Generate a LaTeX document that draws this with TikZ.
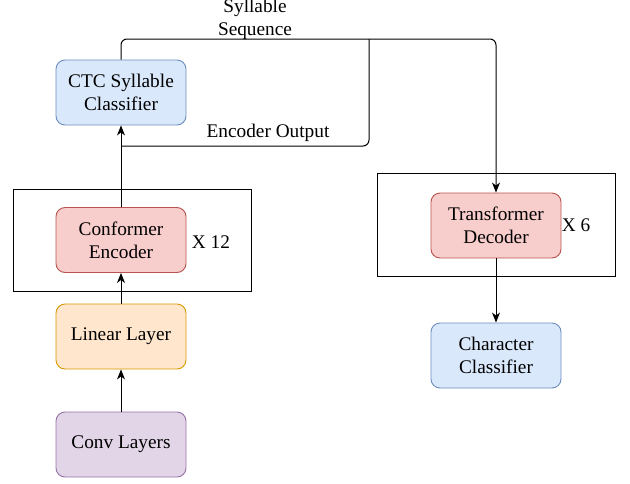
\documentclass[tikz,border=0pt]{standalone}
\usepackage{fontspec}
\setmainfont{Liberation Serif}
\usetikzlibrary{arrows.meta}
\definecolor{bfill}{HTML}{DAE8FC}\definecolor{bdraw}{HTML}{6C8EBF}
\definecolor{rfill}{HTML}{F8CECC}\definecolor{rdraw}{HTML}{B85450}
\definecolor{ofill}{HTML}{FFE6CC}\definecolor{odraw}{HTML}{D79B00}
\definecolor{pfill}{HTML}{E1D5E7}\definecolor{pdraw}{HTML}{9673A6}
\tikzset{
  txt/.style={font=\fontsize{19.3}{23}\selectfont, align=center, inner sep=0pt},
  blk/.style={txt, rounded corners=9pt, minimum width=130pt, minimum height=65pt, line width=0.9pt},
  blue/.style={blk, fill=bfill, draw=bdraw},
  red/.style={blk, fill=rfill, draw=rdraw},
  orange/.style={blk, fill=ofill, draw=odraw},
  purple/.style={blk, fill=pfill, draw=pdraw},
  outer/.style={draw=black, line width=1pt, inner sep=0pt},
  conn/.style={line width=1pt, draw=black},
  arr/.style={conn, -{Stealth[length=10pt,width=8pt,inset=3pt]}},
}
\begin{document}
\begin{tikzpicture}[x=1pt,y=-1pt]
\useasboundingbox (0,0) rectangle (630,483);
% outer repeat boxes
\node[outer, minimum width=238pt, minimum height=102pt] (encbox) at (132,240) {};
\node[outer, minimum width=238pt, minimum height=103pt] (decbox) at (496,224.5) {};
% blocks
\node[blue] (ctc) at (121,92.5) {CTC Syllable\\Classifier};
\node[red] (conf) at (121,240) {Conformer\\Encoder};
\node[orange] (lin) at (121,336.5) {Linear Layer};
\node[purple] (conv) at (121,444.5) {Conv Layers};
\node[red] (tr) at (496,225.5) {Transformer\\Decoder};
\node[blue] (chr) at (496,355.5) {Character\\Classifier};
% labels
\node[txt] (x12) at (211,242) {X 12};
\node[txt] (x6) at (576,225) {X 6};
\node[txt] (syl) at (255,19.5) {Syllable\\Sequence};
\node[txt] (eol) at (268,133) {Encoder Output};
% coordinates
\coordinate (topR) at (496,39);
\coordinate (eo) at (121,146);
\coordinate (j) at (369,39);
% connectors
\draw[arr] (conv.north) -- (lin.south);
\draw[arr] (lin.north) -- (conf.south);
\draw[arr] (conf.north) -- (ctc.south);
\draw[arr, rounded corners=6pt] (ctc.north) |- (topR) -- (tr.north);
\draw[conn, rounded corners=6pt] (eo) -| (j);
\draw[arr] (tr.south) -- (chr.north);
\end{tikzpicture}
\end{document}
